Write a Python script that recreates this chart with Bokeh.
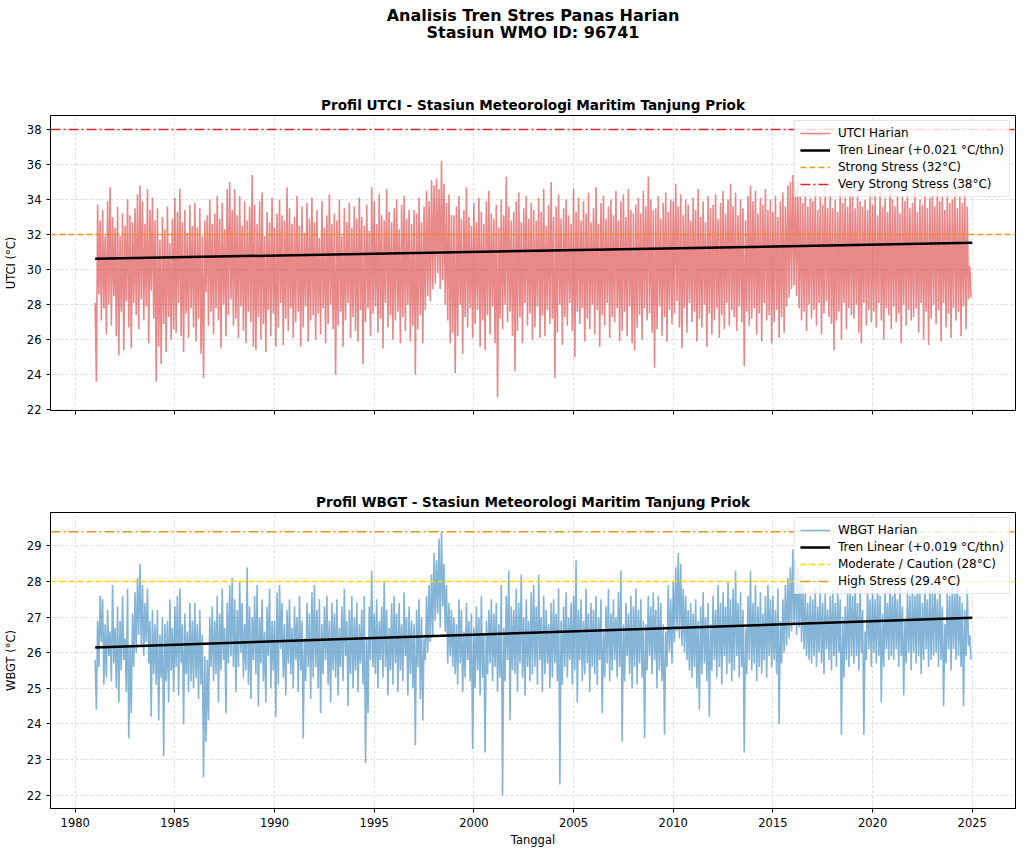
from bokeh.plotting import figure
from bokeh.layouts import column
from bokeh.models import Range1d, FixedTicker, Legend, LegendItem
from bokeh.core.properties import value
from bokeh.embed import file_html
from bokeh.resources import INLINE

# ---------------- data ----------------
first_year = 1981
utci_rows = [
    [28.1, 23.6, 33.7, 28.6, 32.8, 27.1, 33.4, 27.8, 31.9, 26.3, 33.9, 28.0, 34.7, 26.8, 33.0, 28.5],  # 1981
    [32.4, 26.2, 33.6, 25.1, 31.9, 27.6, 33.2, 25.4, 32.5, 28.2, 34.0, 26.7, 33.1, 25.5, 32.7, 28.1],
    [33.5, 27.4, 34.3, 26.6, 34.8, 28.3, 33.9, 27.1, 32.6, 27.9, 34.6, 25.8, 33.4, 28.8, 34.1, 27.2],
    [32.8, 23.6, 33.5, 25.6, 31.7, 24.6, 33.0, 26.9, 32.3, 25.3, 33.6, 27.3, 31.5, 26.0, 32.9, 26.6],
    [34.1, 26.4, 33.3, 28.1, 34.6, 26.2, 32.7, 25.3, 33.4, 27.5, 32.1, 26.1, 33.7, 27.8, 32.5, 26.7],  # 1985
    [33.8, 25.9, 32.4, 27.2, 33.5, 25.2, 31.9, 23.8, 32.8, 28.7, 33.1, 26.8, 34.0, 27.6, 32.6, 26.3],
    [33.2, 27.8, 34.2, 27.1, 32.9, 25.5, 33.8, 28.0, 32.3, 26.2, 34.6, 27.4, 35.0, 28.3, 33.4, 26.8],
    [34.6, 27.2, 33.1, 26.1, 34.2, 27.9, 32.5, 26.5, 33.9, 25.8, 32.8, 27.6, 33.6, 27.0, 35.4, 25.6],
    [33.7, 25.4, 32.6, 27.3, 33.9, 26.0, 34.4, 26.9, 31.9, 25.3, 33.3, 27.7, 32.7, 26.2, 34.1, 27.5],
    [32.4, 25.6, 33.2, 26.7, 34.0, 28.1, 33.1, 25.7, 32.8, 27.2, 34.7, 26.5, 33.5, 27.8, 32.6, 26.1],  # 1990
    [33.0, 27.0, 34.2, 27.6, 32.5, 25.6, 33.6, 26.7, 32.1, 27.9, 33.8, 25.9, 32.9, 27.1, 34.1, 27.4],
    [32.7, 26.0, 33.4, 27.5, 31.8, 26.3, 33.9, 27.8, 32.4, 25.8, 33.1, 26.9, 34.3, 28.0, 32.6, 26.6],
    [33.2, 24.0, 32.8, 26.8, 34.0, 27.6, 31.9, 25.6, 33.5, 27.1, 32.7, 28.1, 33.8, 26.1, 32.4, 27.3],
    [33.6, 26.5, 32.9, 25.9, 34.1, 27.7, 33.0, 24.6, 32.5, 27.0, 33.7, 27.8, 32.2, 26.2, 34.7, 27.5],
    [33.9, 27.9, 32.6, 26.4, 34.3, 27.2, 33.1, 25.5, 32.8, 28.1, 34.6, 26.7, 33.3, 27.4, 32.7, 26.0],  # 1995
    [33.5, 27.1, 34.0, 27.6, 32.3, 25.8, 33.7, 27.3, 34.2, 26.5, 32.9, 28.0, 33.4, 25.9, 32.6, 26.8],
    [33.4, 24.0, 33.2, 26.6, 34.1, 27.4, 32.7, 25.8, 33.6, 27.7, 34.5, 28.5, 33.9, 28.2, 35.1, 28.9],
    [34.8, 29.2, 35.2, 29.8, 34.6, 28.9, 36.2, 29.4, 34.9, 28.0, 33.8, 27.1, 34.3, 25.8, 33.1, 26.4],
    [33.1, 24.1, 33.6, 26.2, 34.2, 28.0, 32.9, 25.2, 33.4, 27.3, 34.7, 26.7, 33.0, 27.8, 32.5, 26.1],
    [33.8, 26.9, 32.7, 27.7, 34.1, 25.6, 33.3, 27.1, 32.6, 25.4, 33.9, 27.4, 34.5, 26.3, 33.2, 27.9],  # 2000
    [32.9, 25.8, 33.7, 22.7, 32.4, 27.2, 34.0, 26.6, 33.1, 28.0, 35.3, 27.0, 33.6, 27.6, 32.8, 26.2],
    [33.3, 24.2, 33.9, 26.5, 34.4, 27.3, 32.7, 25.8, 33.5, 28.1, 34.2, 26.8, 32.9, 27.5, 33.8, 26.0],
    [33.4, 26.7, 32.8, 27.9, 34.1, 26.1, 33.3, 27.4, 34.6, 26.2, 32.5, 27.7, 33.7, 26.9, 35.0, 27.2],
    [33.0, 23.8, 33.6, 26.4, 34.3, 28.0, 32.9, 25.7, 33.5, 27.3, 34.0, 26.8, 33.1, 28.1, 32.6, 26.5],
    [34.6, 25.0, 33.3, 27.6, 34.1, 26.9, 32.8, 27.8, 33.9, 25.9, 33.2, 27.2, 34.4, 26.6, 32.7, 28.0],  # 2005
    [33.5, 26.3, 34.7, 27.7, 32.6, 25.6, 33.8, 27.4, 34.2, 26.8, 32.9, 28.1, 33.6, 26.1, 34.0, 27.3],
    [33.1, 27.0, 34.5, 27.8, 32.8, 25.9, 33.9, 26.5, 34.3, 27.6, 33.0, 26.2, 34.6, 27.9, 33.4, 25.8],
    [33.2, 25.4, 33.7, 26.7, 34.1, 27.4, 33.2, 26.0, 34.5, 27.8, 33.6, 27.1, 35.3, 27.5, 34.0, 26.4],
    [33.4, 24.4, 33.5, 26.6, 34.2, 27.9, 32.9, 26.2, 33.8, 27.3, 34.4, 25.9, 33.3, 27.7, 34.0, 26.9],
    [33.9, 27.5, 34.9, 28.2, 33.6, 26.7, 34.3, 25.5, 33.1, 27.8, 34.0, 26.4, 33.7, 28.1, 32.8, 27.0],  # 2010
    [34.1, 27.6, 33.4, 25.9, 34.6, 27.2, 33.0, 26.7, 33.9, 28.0, 32.7, 25.6, 34.2, 27.5, 33.5, 26.3],
    [33.7, 27.1, 34.3, 27.8, 32.9, 26.1, 33.8, 27.4, 34.5, 26.6, 33.2, 28.1, 34.0, 26.8, 34.9, 27.7],
    [33.6, 27.3, 34.4, 26.5, 33.1, 27.9, 34.0, 27.0, 33.5, 24.5, 32.8, 27.6, 34.2, 26.8, 34.8, 27.2],
    [33.9, 27.8, 34.5, 26.3, 33.2, 27.5, 34.1, 25.9, 33.7, 28.1, 34.6, 27.1, 33.4, 27.4, 34.0, 25.8],
    [33.3, 27.0, 34.2, 27.7, 33.0, 26.1, 33.9, 27.3, 34.4, 26.4, 33.6, 27.9, 34.8, 28.4, 35.0, 28.9],  # 2015
    [35.4, 29.1, 34.7, 28.5, 35.0, 27.8, 34.2, 27.1, 33.8, 27.6, 34.5, 26.5, 33.6, 28.0, 34.1, 27.2],
    [33.9, 27.7, 34.6, 26.8, 33.4, 28.1, 34.2, 26.3, 33.7, 27.5, 34.8, 28.2, 33.5, 27.3, 34.3, 26.9],
    [33.5, 25.4, 34.0, 27.1, 33.3, 27.6, 34.5, 26.0, 33.8, 28.1, 34.1, 26.6, 33.6, 27.8, 34.7, 27.4],
    [34.2, 27.2, 33.5, 28.0, 34.4, 26.4, 33.9, 25.8, 33.6, 28.1, 34.0, 26.8, 33.4, 27.7, 34.6, 27.0],
    [33.7, 27.6, 34.3, 26.7, 33.1, 28.1, 34.5, 27.1, 33.6, 26.0, 34.1, 27.8, 33.3, 27.4, 34.8, 26.6],  # 2020
    [34.0, 27.9, 33.6, 27.0, 34.4, 27.5, 33.2, 25.8, 34.2, 28.0, 33.9, 26.8, 34.6, 27.7, 33.5, 27.1],
    [33.8, 27.3, 34.5, 27.8, 33.3, 26.4, 34.0, 28.1, 33.7, 26.0, 34.3, 27.6, 33.5, 25.7, 34.1, 27.2],
    [34.3, 28.0, 33.6, 26.9, 34.7, 27.7, 33.9, 25.9, 34.2, 28.1, 33.4, 26.7, 34.5, 27.5, 33.8, 26.1],
    [34.0, 27.8, 34.6, 27.1, 33.5, 27.6, 34.2, 26.2, 33.8, 27.9, 34.4, 26.6, 33.6, 28.3, 30.2, 28.4],  # 2024
]
wbgt_rows = [
    [25.8, 24.4, 26.9, 25.6, 27.6, 26.3, 27.5, 25.1, 26.8, 25.3, 27.2, 25.9, 26.6, 25.2, 27.9, 25.7],  # 1981
    [26.7, 25.0, 27.3, 24.6, 26.9, 25.5, 27.6, 25.8, 26.4, 24.9, 27.8, 23.6, 26.2, 24.3, 27.1, 25.6],
    [27.7, 26.0, 28.1, 26.5, 28.5, 26.2, 27.9, 25.9, 27.4, 26.3, 27.8, 25.7, 26.9, 24.2, 27.2, 25.4],
    [26.8, 25.1, 27.2, 24.1, 26.5, 25.3, 27.0, 23.1, 26.8, 25.2, 26.9, 24.6, 27.5, 25.5, 26.7, 24.9],
    [27.3, 25.6, 27.6, 24.8, 27.8, 25.7, 26.8, 24.0, 27.1, 25.4, 26.6, 24.9, 27.4, 25.2, 26.9, 25.0],  # 1985
    [27.4, 25.3, 26.8, 24.7, 27.2, 25.1, 26.5, 22.5, 25.9, 23.5, 25.8, 24.1, 27.0, 25.6, 27.3, 25.2],
    [26.9, 25.4, 27.6, 24.6, 27.1, 25.5, 27.8, 25.8, 26.7, 24.3, 27.4, 25.7, 27.9, 25.9, 28.1, 25.6],
    [27.5, 24.9, 27.2, 25.6, 28.0, 26.0, 27.4, 25.3, 26.8, 25.5, 28.4, 25.1, 27.3, 24.7, 27.0, 25.8],
    [27.6, 25.4, 27.9, 24.5, 27.0, 25.7, 27.5, 25.2, 26.6, 24.6, 27.3, 25.9, 27.8, 25.0, 26.9, 25.5],
    [26.9, 24.2, 27.7, 25.1, 27.9, 26.1, 27.4, 25.3, 26.8, 24.8, 27.2, 25.7, 27.5, 25.4, 26.7, 25.0],  # 1990
    [27.3, 25.8, 27.0, 24.9, 27.6, 25.5, 26.9, 23.6, 26.4, 25.2, 27.4, 25.6, 27.1, 24.7, 27.7, 25.3],
    [27.9, 25.6, 27.2, 25.0, 27.5, 24.3, 26.8, 25.4, 27.3, 25.8, 27.6, 25.1, 26.9, 24.6, 27.4, 25.5],
    [27.1, 25.3, 27.5, 24.8, 26.7, 25.6, 27.3, 25.2, 27.8, 25.9, 26.9, 24.5, 27.2, 25.4, 27.6, 25.0],
    [27.0, 25.5, 27.4, 24.9, 26.8, 25.7, 27.2, 25.1, 27.6, 22.9, 26.4, 24.3, 27.3, 25.8, 28.3, 25.6],
    [27.1, 25.4, 27.5, 25.0, 26.9, 25.8, 27.3, 25.3, 28.0, 25.6, 27.2, 24.8, 26.7, 25.5, 27.4, 25.1],  # 1995
    [27.6, 25.7, 27.1, 24.9, 27.4, 25.5, 26.8, 25.2, 27.7, 25.9, 27.0, 24.8, 27.3, 25.4, 26.9, 25.0],
    [26.8, 23.4, 27.2, 25.6, 27.5, 24.7, 27.0, 24.1, 26.4, 25.8, 27.6, 26.0, 27.9, 26.3, 28.2, 26.5],
    [28.8, 26.9, 28.6, 27.1, 29.2, 26.7, 29.4, 27.3, 28.5, 26.6, 27.9, 25.7, 27.4, 25.9, 27.2, 25.6],
    [27.0, 25.4, 26.8, 25.1, 27.5, 25.7, 27.2, 24.9, 26.6, 25.3, 27.4, 25.8, 26.9, 25.2, 27.1, 23.3],
    [26.7, 25.0, 27.3, 25.5, 27.0, 24.8, 27.6, 25.3, 26.5, 23.2, 26.9, 25.4, 27.2, 25.7, 27.5, 25.2],  # 2000
    [27.1, 25.6, 27.4, 24.9, 26.8, 25.3, 27.9, 22.0, 26.7, 25.2, 27.6, 25.8, 28.3, 24.1, 27.3, 25.5],
    [27.2, 25.4, 27.8, 24.9, 27.4, 25.7, 28.2, 25.3, 27.0, 24.8, 27.5, 25.6, 26.9, 25.2, 27.7, 25.4],
    [27.9, 25.6, 27.3, 25.1, 28.2, 25.8, 27.0, 24.9, 27.6, 25.4, 27.2, 25.7, 26.8, 25.0, 27.4, 25.3],
    [27.5, 25.7, 27.1, 25.2, 27.8, 22.3, 26.9, 25.1, 27.3, 25.6, 27.7, 25.3, 27.0, 25.8, 27.4, 25.1],
    [27.6, 25.5, 28.6, 24.6, 27.2, 25.8, 27.5, 25.2, 26.9, 25.4, 27.8, 25.7, 27.1, 24.9, 27.4, 25.6],  # 2005
    [27.2, 25.4, 27.6, 25.1, 27.0, 25.8, 27.5, 24.3, 26.6, 25.3, 27.3, 25.7, 27.8, 25.2, 27.1, 25.5],
    [27.5, 25.8, 27.0, 25.3, 27.7, 25.6, 28.3, 23.5, 26.8, 25.2, 27.4, 25.9, 27.1, 25.4, 27.6, 25.0],
    [27.3, 25.6, 27.8, 25.1, 27.2, 25.7, 27.5, 25.3, 26.9, 23.6, 26.8, 25.5, 27.6, 25.9, 27.3, 25.4],
    [27.7, 25.8, 27.2, 25.0, 27.6, 25.5, 27.4, 25.2, 26.8, 23.7, 26.6, 25.6, 27.9, 26.0, 27.5, 25.7],
    [28.0, 26.3, 28.4, 26.6, 28.8, 26.4, 28.5, 26.2, 27.8, 26.0, 27.6, 25.8, 27.2, 25.5, 27.4, 25.3],  # 2010
    [27.1, 25.6, 27.5, 25.0, 26.9, 24.4, 27.3, 25.4, 27.7, 25.7, 27.0, 25.2, 27.4, 24.2, 26.8, 25.5],
    [27.6, 25.8, 27.2, 25.3, 27.9, 25.6, 27.4, 25.1, 27.7, 25.9, 27.3, 25.4, 28.0, 25.7, 27.5, 25.2],
    [27.8, 25.5, 28.3, 25.9, 27.4, 25.3, 27.7, 25.6, 27.2, 23.2, 26.7, 25.4, 27.6, 25.8, 28.3, 25.5],
    [27.4, 25.7, 27.9, 25.2, 27.3, 25.6, 27.7, 25.4, 27.1, 25.8, 27.6, 25.3, 27.9, 25.9, 27.5, 25.6],
    [27.6, 25.8, 27.2, 25.4, 27.8, 24.0, 26.9, 25.7, 27.5, 26.0, 27.9, 26.2, 28.1, 26.4, 28.4, 26.6],  # 2015
    [28.9, 26.8, 28.6, 26.5, 28.4, 26.7, 28.2, 26.3, 27.9, 26.1, 27.7, 25.9, 27.4, 25.8, 27.6, 25.7],
    [27.5, 25.9, 27.8, 25.6, 27.3, 26.0, 27.9, 25.7, 27.4, 25.4, 27.7, 26.1, 27.2, 25.8, 27.6, 25.5],
    [27.8, 25.9, 27.4, 25.6, 27.9, 26.0, 27.5, 23.7, 27.0, 25.3, 27.3, 25.8, 27.7, 25.6, 28.0, 25.9],
    [27.6, 25.7, 28.1, 25.9, 27.4, 25.5, 27.8, 26.0, 27.2, 23.7, 26.6, 25.8, 27.9, 26.1, 27.5, 25.6],
    [27.9, 26.0, 27.5, 25.7, 28.0, 25.9, 27.6, 24.6, 27.1, 25.6, 27.8, 26.1, 27.4, 25.8, 28.1, 25.9],  # 2020
    [27.6, 25.8, 28.0, 26.1, 27.5, 25.6, 27.9, 25.9, 27.3, 24.8, 26.9, 25.7, 27.8, 26.0, 27.6, 25.5],
    [27.9, 26.0, 27.6, 25.7, 28.2, 25.9, 27.7, 25.4, 27.4, 25.8, 28.0, 26.1, 27.5, 25.6, 27.9, 25.8],
    [27.7, 25.9, 28.1, 26.0, 27.5, 25.6, 27.9, 25.8, 27.3, 24.5, 26.8, 25.7, 27.8, 26.1, 27.6, 25.5],
    [28.0, 26.1, 27.7, 25.8, 28.2, 25.9, 27.6, 25.6, 27.4, 24.5, 27.2, 25.9, 27.8, 26.2, 26.5, 25.8],  # 2024
]

trend_years = [1981.0, 2025.0]
utci_trend = [30.62, 31.53]
wbgt_trend = [26.15, 26.98]
utci_thresholds = [32.0, 38.0]
wbgt_thresholds = [28.0, 29.4]
year_ticks = [1980, 1985, 1990, 1995, 2000, 2005, 2010, 2015, 2020, 2025]
utci_ticks = [22, 24, 26, 28, 30, 32, 34, 36, 38]
wbgt_ticks = [22, 23, 24, 25, 26, 27, 28, 29]

suptitle_lines = ["Analisis Tren Stres Panas Harian", "Stasiun WMO ID: 96741"]
utci_title = "Profil UTCI - Stasiun Meteorologi Maritim Tanjung Priok"
wbgt_title = "Profil WBGT - Stasiun Meteorologi Maritim Tanjung Priok"


def flatten(rows):
    xs, ys = [], []
    for i, row in enumerate(rows):
        n = len(row)
        for k, v in enumerate(row):
            xs.append(first_year + i + k / n)
            ys.append(v)
    return xs, ys


utci_x, utci_y = flatten(utci_rows)
wbgt_x, wbgt_y = flatten(wbgt_rows)

FONT = "DejaVu Sans"
X_LO, X_HI = 1978.76, 2027.17
xr = Range1d(X_LO, X_HI)
W = 1016

# ---------------- header ----------------
head = figure(width=W, height=60, x_range=Range1d(0, 1), y_range=Range1d(0, 1),
              toolbar_location=None, output_backend="svg", min_border=0)
head.axis.visible = False
head.grid.visible = False
head.outline_line_color = None
head.text(x=[0.5, 0.5], y=[0.75, 0.467], text=suptitle_lines, text_align="center",
          text_baseline="middle", text_font=value(FONT), text_font_style="bold",
          text_font_size="16px", text_color="black")


def style(p, ticks, ylabel, show_xlabels):
    p.outline_line_color = "black"
    p.outline_line_width = 1
    p.xaxis.ticker = FixedTicker(ticks=year_ticks)
    p.yaxis.ticker = FixedTicker(ticks=ticks)
    for ax in (p.xaxis, p.yaxis):
        ax.axis_line_color = "black"
        ax.major_tick_line_color = "black"
        ax.major_tick_in = 0
        ax.major_tick_out = 4
        ax.minor_tick_line_color = None
        ax.major_label_text_font = FONT
        ax.major_label_text_font_size = "11.5px"
        ax.major_label_text_color = "black"
        ax.axis_label_text_font = FONT
        ax.axis_label_text_font_size = "11.5px"
        ax.axis_label_text_font_style = "normal"
        ax.axis_label_text_color = "black"
    p.yaxis.axis_label = ylabel
    p.yaxis.axis_label_standoff = 6
    if show_xlabels:
        p.xaxis.axis_label = "Tanggal"
        p.xaxis.axis_label_standoff = 3
    else:
        p.xaxis.major_label_overrides = {t: "" for t in year_ticks}
    p.grid.grid_line_color = "#b0b0b0"
    p.grid.grid_line_alpha = 0.5
    p.grid.grid_line_dash = "3 2"
    p.grid.grid_line_width = 0.8
    p.title.text_font = FONT
    p.title.text_font_size = "13.6px"
    p.title.text_font_style = "bold"
    p.title.text_color = "black"
    p.title.align = "center"
    p.title.standoff = 6


def make_legend(p, items):
    lg = Legend(items=items, location="top_right")
    lg.label_text_font = FONT
    lg.label_text_font_size = "12px"
    lg.label_text_color = "black"
    lg.glyph_width = 30
    lg.glyph_height = 14
    lg.label_height = 14
    lg.label_standoff = 8
    lg.spacing = 3
    lg.padding = 5
    lg.margin = 5
    lg.border_line_color = "#cccccc"
    lg.border_line_width = 1
    lg.background_fill_alpha = 0.8
    p.add_layout(lg)


# ---------------- UTCI ----------------
p1 = figure(width=W, height=370, x_range=xr, y_range=Range1d(21.96, 38.8),
            toolbar_location=None, output_backend="svg", title=utci_title,
            min_border_left=50, min_border_right=1, min_border_top=55, min_border_bottom=20)
style(p1, utci_ticks, "UTCI (°C)", False)
r_u = p1.line(utci_x, utci_y, line_color="#d62728", line_alpha=0.55, line_width=1.6)
r_ut = p1.line(trend_years, utci_trend, line_color="black", line_width=2.5)
r_u32 = p1.line([X_LO, X_HI], [utci_thresholds[0]] * 2, line_color="#ff8c00", line_alpha=0.9,
                line_width=1.5, line_dash="6 3")
r_u38 = p1.line([X_LO, X_HI], [utci_thresholds[1]] * 2, line_color="#d62728",
                line_width=1.5, line_dash="10 3 2 3")
make_legend(p1, [
    LegendItem(label="UTCI Harian", renderers=[r_u]),
    LegendItem(label="Tren Linear (+0.021 °C/thn)", renderers=[r_ut]),
    LegendItem(label="Strong Stress (32°C)", renderers=[r_u32]),
    LegendItem(label="Very Strong Stress (38°C)", renderers=[r_u38]),
])

# ---------------- WBGT ----------------
p2 = figure(width=W, height=425, x_range=xr, y_range=Range1d(21.625, 29.94),
            toolbar_location=None, output_backend="svg", title=wbgt_title,
            min_border_left=50, min_border_right=1, min_border_top=82, min_border_bottom=47)
style(p2, wbgt_ticks, "WBGT (°C)", True)
r_w = p2.line(wbgt_x, wbgt_y, line_color="#1f77b4", line_alpha=0.55, line_width=1.6)
r_wt = p2.line(trend_years, wbgt_trend, line_color="black", line_width=2.5)
r_w28 = p2.line([X_LO, X_HI], [wbgt_thresholds[0]] * 2, line_color="#ffd700",
                line_width=1.5, line_dash="6 3")
r_w29 = p2.line([X_LO, X_HI], [wbgt_thresholds[1]] * 2, line_color="#e69520",
                line_width=1.5, line_dash="10 3 2 3")
make_legend(p2, [
    LegendItem(label="WBGT Harian", renderers=[r_w]),
    LegendItem(label="Tren Linear (+0.019 °C/thn)", renderers=[r_wt]),
    LegendItem(label="Moderate / Caution (28°C)", renderers=[r_w28]),
    LegendItem(label="High Stress (29.4°C)", renderers=[r_w29]),
])

layout = column(head, p1, p2, spacing=0)
open("out.html", "w").write(file_html(layout, INLINE))
